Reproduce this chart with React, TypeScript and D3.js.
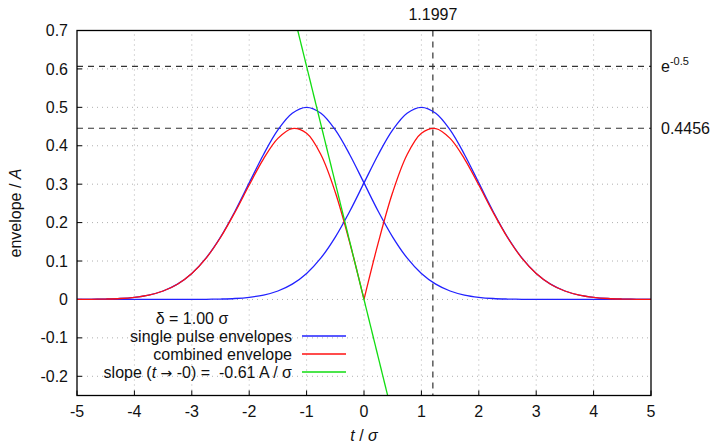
import React from 'react';
import * as d3 from 'd3';

// sample positions t / sigma
const tValues = [
  -5, -4.75, -4.5, -4.25, -4, -3.75, -3.5, -3.25, -3, -2.75, -2.5, -2.25, -2, -1.75, -1.5, -1.25, -1, -0.75, -0.5, -0.25,
  0, 0.25, 0.5, 0.75, 1, 1.25, 1.5, 1.75, 2, 2.25, 2.5, 2.75, 3, 3.25, 3.5, 3.75, 4, 4.25, 4.5, 4.75, 5,
];

// pulse centred at t = -1
const pulseLeft = [
  0.0002, 0.0004, 0.0011, 0.0025, 0.0056, 0.0114, 0.022, 0.0398, 0.0677, 0.1081, 0.1623, 0.2289, 0.3033, 0.3774, 0.4412,
  0.4846, 0.5, 0.4846, 0.4412, 0.3774, 0.3033, 0.2289, 0.1623, 0.1081, 0.0677, 0.0398, 0.022, 0.0114, 0.0056, 0.0025,
  0.0011, 0.0004, 0.0002, 0.0001, 0, 0, 0, 0, 0, 0, 0,
];

// pulse centred at t = +1
const pulseRight = [
  0, 0, 0, 0, 0, 0, 0, 0.0001, 0.0002, 0.0004, 0.0011, 0.0025, 0.0056, 0.0114, 0.022, 0.0398, 0.0677, 0.1081, 0.1623,
  0.2289, 0.3033, 0.3774, 0.4412, 0.4846, 0.5, 0.4846, 0.4412, 0.3774, 0.3033, 0.2289, 0.1623, 0.1081, 0.0677, 0.0398,
  0.022, 0.0114, 0.0056, 0.0025, 0.0011, 0.0004, 0.0002,
];

// combined envelope
const combined = [
  0.0002, 0.0004, 0.0011, 0.0025, 0.0056, 0.0114, 0.022, 0.0397, 0.0675, 0.1077, 0.1612, 0.2264, 0.2977, 0.366, 0.4192,
  0.4448, 0.4323, 0.3765, 0.2789, 0.1485, 0, 0.1485, 0.2789, 0.3765, 0.4323, 0.4448, 0.4192, 0.366, 0.2977, 0.2264,
  0.1612, 0.1077, 0.0675, 0.0397, 0.022, 0.0114, 0.0056, 0.0025, 0.0011, 0.0004, 0.0002,
];

const slope = -0.6065;
const slopeT = [-1.3, 0.5];
const peakT = 1.1997;
const peakY = 0.4456;
const eHalf = 0.6065;

const xTicks = [-5, -4, -3, -2, -1, 0, 1, 2, 3, 4, 5];
const yTicks = [-0.2, -0.1, 0, 0.1, 0.2, 0.3, 0.4, 0.5, 0.6, 0.7];

const W = 713;
const H = 446;
const margin = { left: 77, right: 62, top: 30.5, bottom: 50.5 };
const font = '"Liberation Sans", Arial, sans-serif';
const fs = 16;

export default function App() {
  const x = d3.scaleLinear().domain([-5, 5]).range([margin.left, W - margin.right]);
  const y = d3.scaleLinear().domain([-0.25, 0.7]).range([H - margin.bottom, margin.top]);
  const x0 = x.range()[0], x1 = x.range()[1];
  const y0 = y.range()[0], y1 = y.range()[1];

  const line = d3.line<number>()
    .x((_, i) => x(tValues[i]))
    .y(d => y(d))
    .curve(d3.curveCatmullRom);

  // split the combined envelope at t = 0 so the notch stays sharp
  const mid = tValues.indexOf(0);
  const segLine = (vals: number[], from: number, to: number) =>
    d3.line<number>()
      .x((_, i) => x(tValues[from + i]))
      .y(d => y(d))
      .curve(d3.curveCatmullRom)(vals.slice(from, to + 1)) || '';

  const slopePath = d3.line<number>().x(t => x(t)).y(t => y(slope * t))(slopeT) || '';

  const legendX = 292;
  const legendRows = [
    { y: 336, color: '#2222ff' },
    { y: 354, color: '#ff1111' },
    { y: 372, color: '#11dd11' },
  ];

  return (
    <svg width={W} height={H} style={{ position: 'absolute', left: 0, top: 0, background: '#fff' }} fontFamily={font}>
      <defs>
        <clipPath id="plot-clip">
          <rect x={x0} y={y1} width={x1 - x0} height={y0 - y1} />
        </clipPath>
      </defs>

      {/* grid */}
      {xTicks.slice(1, -1).map(t => (
        <line key={'gx' + t} x1={x(t)} x2={x(t)} y1={y0} y2={y1} stroke="#b0b0b0" strokeWidth={1} strokeDasharray="1,4" />
      ))}
      {yTicks.slice(0, -1).map(v => (
        <line key={'gy' + v} x1={x0} x2={x1} y1={y(v)} y2={y(v)} stroke="#b0b0b0" strokeWidth={1} strokeDasharray="1,4" />
      ))}

      {/* ticks */}
      {xTicks.map(t => (
        <g key={'tx' + t}>
          <line x1={x(t)} x2={x(t)} y1={y0} y2={y0 - 5} stroke="#000" />
          <text x={x(t)} y={y0 + 21} textAnchor="middle" fontSize={fs} fill="#111">{t}</text>
        </g>
      ))}
      {yTicks.map(v => (
        <g key={'ty' + v}>
          <line x1={x0} x2={x0 + 5} y1={y(v)} y2={y(v)} stroke="#000" />
          <text x={x0 - 9} y={y(v)} dy="0.35em" textAnchor="end" fontSize={fs} fill="#111">{+v.toFixed(1)}</text>
        </g>
      ))}

      {/* reference lines */}
      <line x1={x0} x2={x1} y1={y(eHalf)} y2={y(eHalf)} stroke="#333" strokeWidth={1.2} strokeDasharray="6,5" />
      <line x1={x0} x2={x1} y1={y(peakY)} y2={y(peakY)} stroke="#333" strokeWidth={1.2} strokeDasharray="6,5" />
      <line x1={x(peakT)} x2={x(peakT)} y1={y1} y2={y0} stroke="#333" strokeWidth={1.2} strokeDasharray="6,5" />

      {/* curves */}
      <g clipPath="url(#plot-clip)" fill="none" strokeWidth={1.3}>
        <path d={line(pulseLeft) || ''} stroke="#2222ff" />
        <path d={line(pulseRight) || ''} stroke="#2222ff" />
        <path d={segLine(combined, 0, mid)} stroke="#ff1111" />
        <path d={segLine(combined, mid, tValues.length - 1)} stroke="#ff1111" />
        <path d={slopePath} stroke="#11dd11" />
      </g>

      {/* frame */}
      <rect x={x0} y={y1} width={x1 - x0} height={y0 - y1} fill="none" stroke="#000" strokeWidth={1.3} />

      {/* annotations */}
      <text x={x(peakT)} y={19.5} textAnchor="middle" fontSize={fs} fill="#111">1.1997</text>
      <text x={x1 + 10} y={y(eHalf)} dy="0.35em" fontSize={fs} fill="#111">
        e<tspan fontSize={11} dy="-7">-0.5</tspan>
      </text>
      <text x={x1 + 10} y={y(peakY)} dy="0.35em" fontSize={fs} fill="#111">0.4456</text>

      {/* axis titles */}
      <text transform={`translate(21,${(y0 + y1) / 2}) rotate(-90)`} textAnchor="middle" fontSize={fs} fill="#111">
        envelope / <tspan fontStyle="italic">A</tspan>
      </text>
      <text x={x(0)} y={441} textAnchor="middle" fontSize={fs} fill="#111">
        <tspan fontStyle="italic">t</tspan> / <tspan fontStyle="italic">σ</tspan>
      </text>

      {/* legend */}
      <text x={192} y={318} dy="0.35em" textAnchor="middle" fontSize={fs} fill="#111">δ = 1.00 σ</text>
      <text x={legendX} y={legendRows[0].y} dy="0.35em" textAnchor="end" fontSize={fs} fill="#111">single pulse envelopes</text>
      <text x={legendX} y={legendRows[1].y} dy="0.35em" textAnchor="end" fontSize={fs} fill="#111">combined envelope</text>
      <text x={legendX} y={legendRows[2].y} dy="0.35em" textAnchor="end" fontSize={fs} fill="#111" xmlSpace="preserve">
        slope (<tspan fontStyle="italic">t</tspan> <tspan fontFamily="DejaVu Sans" fontSize={14}>→</tspan> -0) =  -0.61 A / σ
      </text>
      {legendRows.map(r => (
        <line key={r.y} x1={302} x2={346} y1={r.y} y2={r.y} stroke={r.color} strokeWidth={1.3} />
      ))}
    </svg>
  );
}
